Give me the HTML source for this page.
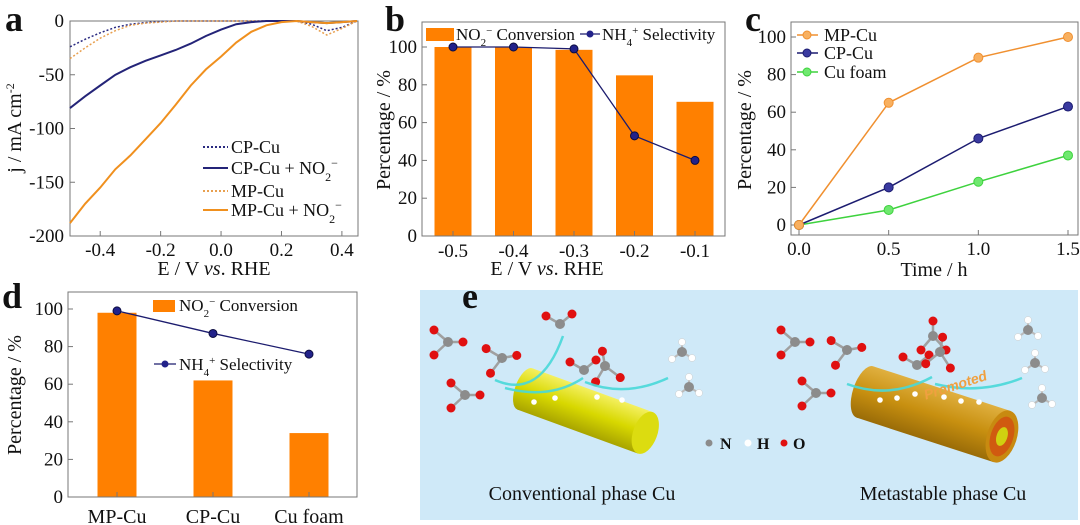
<!DOCTYPE html>
<html><head><meta charset="utf-8">
<style>
html,body{margin:0;padding:0;background:#fff;}
svg{display:block;font-family:"Liberation Serif",serif;}
</style></head>
<body>
<svg id="fig" width="1080" height="525" viewBox="0 0 1080 525" xmlns="http://www.w3.org/2000/svg"></svg>
<script>
// ---------- Panel a data ----------
const aX = [-0.5,-0.45,-0.4,-0.35,-0.3,-0.25,-0.2,-0.15,-0.1,-0.05,0,0.05,0.1,0.15,0.2,0.25,0.3,0.35,0.4,0.45];
const aCPno2 = [-81,-70,-60,-50,-43,-37,-32,-27,-21,-14,-8,-3,-1,0,0,0,-1,-2,-1,0];
const aMPno2 = [-188,-170,-155,-138,-125,-110,-95,-78,-60,-45,-33,-20,-10,-4,-1,0,-1,-2,-1,0];
const aCP = [-24,-17,-11,-6,-3,-1.5,-0.5,0,0,0,0,0,0,0,0,0,-3,-9,-6,0];
const aMP = [-35,-25,-16,-9,-4,-2,-1,0,0,0,0,0,0,0,0,0,-5,-13,-7,0];
const aXTicks = [-0.4,-0.2,0.0,0.2,0.4];
const aYTicks = [0,-50,-100,-150,-200];
// ---------- Panel b data ----------
const bCats = ["-0.5","-0.4","-0.3","-0.2","-0.1"];
const bConv = [100,100,98.5,85,71];
const bSel = [100,100,99,53,40];
const bYTicks = [0,20,40,60,80,100];
// ---------- Panel c data ----------
const cTime = [0,0.5,1.0,1.5];
const cMP = [0,65,89,100];
const cCP = [0,20,46,63];
const cFoam = [0,8,23,37];
const cXTicks = ["0.0","0.5","1.0","1.5"];
const cYTicks = [0,20,40,60,80,100];
// ---------- Panel d data ----------
const dCats = ["MP-Cu","CP-Cu","Cu foam"];
const dConv = [98,62,34];
const dSel = [99,87,76];
const dYTicks = [0,20,40,60,80,100];

const NS="http://www.w3.org/2000/svg";
const svg=document.getElementById('fig');
function mk(tag,attrs,parent){const e=document.createElementNS(NS,tag);for(const k in attrs)e.setAttribute(k,attrs[k]);(parent||svg).appendChild(e);return e;}
function txt(s,x,y,size,anchor,parent,extra){const t=mk('text',Object.assign({x:x,y:y,'font-size':size,'text-anchor':anchor||'middle',fill:'#111'},extra||{}),parent);t.innerHTML=s;return t;}
function lin(a,b){return v=>a[1]+(v-a[0])*(b[1]-a[1])/(b[0]-a[0]);}
function frame(x0,y0,x1,y1,g){mk('rect',{x:x0,y:y0,width:x1-x0,height:y1-y0,fill:'none',stroke:'#777','stroke-width':1},g);}
function path(xs,ys,sx,sy){return xs.map((v,i)=>(i?'L':'M')+sx(v).toFixed(1)+','+sy(ys[i]).toFixed(1)).join(' ');}
const TK=19, TT=20, LG=17;

// ===== Panel a =====
const ga=mk('g',{});


const axs=lin([-0.5,70],[0.45,357]), ays=lin([0,21],[-200,236]);
frame(70,21,358,236,ga);
aXTicks.forEach(v=>{const x=axs(v);mk('line',{x1:x,x2:x,y1:236,y2:231,stroke:'#777'},ga);
 const t=txt(v.toFixed(1),x,256,TK,'middle',ga);});
aYTicks.forEach(v=>{const y=ays(v);mk('line',{x1:70,x2:75,y1:y,y2:y,stroke:'#777'},ga);
 const t=txt(String(v),64,y+6,TK,'end',ga);});
[[aCP,'#2a2a80','1.5','2,2','a-line-cp-cu'],[aMP,'#e8a050','1.5','2,2','a-line-mp-cu'],[aCPno2,'#242478','2','','a-line-cp-cu-no2'],[aMPno2,'#f0901e','2','','a-line-mp-cu-no2']].forEach(s=>{
 const p=mk('path',{d:path(aX,s[0],axs,ays),fill:'none',stroke:s[1],'stroke-width':s[2],'stroke-dasharray':s[3]},ga);
 });
const aLeg=[['CP-Cu','#2a2a80','2,2',147],['CP-Cu + NO<tspan baseline-shift="sub" font-size="12">2</tspan><tspan baseline-shift="super" font-size="12">−</tspan>','#242478','',168],['MP-Cu','#e8a050','2,2',191],['MP-Cu + NO<tspan baseline-shift="sub" font-size="12">2</tspan><tspan baseline-shift="super" font-size="12">−</tspan>','#f0901e','',210]];
aLeg.forEach(l=>{const g=mk('g',{},ga);
 mk('line',{x1:203,x2:228,y1:l[3],y2:l[3],stroke:l[1],'stroke-width':2,'stroke-dasharray':l[2]},g);
 txt(l[0],231,l[3]+6,LG+1,'start',g);});
let t=txt('j / mA cm<tspan baseline-shift="super" font-size="12">-2</tspan>',0,0,TT,'middle',ga,{transform:'translate(21,128) rotate(-90)'});

t=txt('E / V <tspan font-style="italic">vs</tspan>. RHE',214,275,TT,'middle',ga);


// ===== Panel b =====
const gb=mk('g',{});


const bys=lin([0,236],[100,47]); const bxs=i=>453+60.5*i;
bCats.forEach((c,i)=>{const r=mk('rect',{x:bxs(i)-18.5,y:bys(bConv[i]),width:37,height:236-bys(bConv[i]),fill:'#ff8000'},gb);
 
 mk('line',{x1:bxs(i),x2:bxs(i),y1:236,y2:231,stroke:'#777'},gb);
 const t=txt(c,bxs(i),257,TK,'middle',gb);});
frame(422,22,725,236,gb);
bYTicks.forEach(v=>{const y=bys(v);mk('line',{x1:422,x2:427,y1:y,y2:y,stroke:'#777'},gb);
 const t=txt(String(v),417,y+6,TK,'end',gb);});
let p=mk('path',{d:bSel.map((v,i)=>(i?'L':'M')+bxs(i)+','+bys(v)).join(' '),fill:'none',stroke:'#1c1c6e','stroke-width':1.3},gb);

bSel.forEach((v,i)=>{const c=mk('circle',{cx:bxs(i),cy:bys(v),r:4,fill:'#22228a',stroke:'#0c0c40','stroke-width':1},gb);
 });
let lg=mk('g',{},gb);
mk('rect',{x:426,y:28,width:28,height:13,fill:'#ff8000'},lg);
txt('NO<tspan baseline-shift="sub" font-size="11">2</tspan><tspan baseline-shift="super" font-size="11">−</tspan> Conversion',456,40,LG,'start',lg);
mk('line',{x1:580,x2:600,y1:34,y2:34,stroke:'#1c1c6e','stroke-width':1.3},lg);
mk('circle',{cx:590,cy:34,r:3.5,fill:'#22228a'},lg);
txt('NH<tspan baseline-shift="sub" font-size="11">4</tspan><tspan baseline-shift="super" font-size="11">+</tspan> Selectivity',602,40,LG,'start',lg);
t=txt('Percentage / %',0,0,TT,'middle',gb,{transform:'translate(390,130) rotate(-90)'});

t=txt('E / V <tspan font-style="italic">vs</tspan>. RHE',547,275,TT,'middle',gb);


// ===== Panel c =====
const gc=mk('g',{});


const cxs=lin([0,799],[1.5,1068]), cys=lin([0,225],[100,37]);
frame(791,22,1078,235,gc);
cXTicks.forEach(v=>{const x=cxs(parseFloat(v));mk('line',{x1:x,x2:x,y1:235,y2:230,stroke:'#777'},gc);
 const t=txt(v,x,255,TK,'middle',gc);});
cYTicks.forEach(v=>{const y=cys(v);mk('line',{x1:791,x2:796,y1:y,y2:y,stroke:'#777'},gc);
 const t=txt(String(v),786,y+6,TK,'end',gc);});
[[cFoam,'#3ed23e','#6fe86f','c-series-cu-foam'],[cCP,'#1c1c70','#3a3aa0','c-series-cp-cu'],[cMP,'#f09030','#f8b060','c-series-mp-cu']].forEach(s=>{
 const g=mk('g',{},gc);
 mk('path',{d:path(cTime,s[0],cxs,cys),fill:'none',stroke:s[1],'stroke-width':1.5},g);
 s[0].forEach((v,i)=>{const c=mk('circle',{cx:cxs(cTime[i]),cy:cys(v),r:4.5,fill:s[2],stroke:s[1],'stroke-width':1},g);
  });
});
[['MP-Cu','#f09030','#f8b060',35],['CP-Cu','#1c1c70','#3a3aa0',53],['Cu foam','#3ed23e','#6fe86f',72]].forEach(l=>{
 const g=mk('g',{},gc);
 mk('line',{x1:797,x2:818,y1:l[3],y2:l[3],stroke:l[1],'stroke-width':1.5},g);
 mk('circle',{cx:807,cy:l[3],r:4,fill:l[2],stroke:l[1]},g);
 txt(l[0],824,l[3]+6,LG+1,'start',g);});
t=txt('Percentage / %',0,0,TT,'middle',gc,{transform:'translate(751,130) rotate(-90)'});

t=txt('Time / h',934,276,TT,'middle',gc);


// ===== Panel d =====
const gd=mk('g',{});


const dys=lin([0,497],[100,309]); const dxs=i=>117+96*i;
dCats.forEach((c,i)=>{const r=mk('rect',{x:dxs(i)-19.5,y:dys(dConv[i]),width:39,height:497-dys(dConv[i]),fill:'#ff8000'},gd);
 
 mk('line',{x1:dxs(i),x2:dxs(i),y1:497,y2:492,stroke:'#777'},gd);
 const t=txt(c,dxs(i),523,TT,'middle',gd);});
frame(68,292,357,497,gd);
dYTicks.forEach(v=>{const y=dys(v);mk('line',{x1:68,x2:73,y1:y,y2:y,stroke:'#777'},gd);
 const t=txt(String(v),63,y+6,TK,'end',gd);});
p=mk('path',{d:dSel.map((v,i)=>(i?'L':'M')+dxs(i)+','+dys(v)).join(' '),fill:'none',stroke:'#1c1c6e','stroke-width':1.3},gd);

dSel.forEach((v,i)=>{const c=mk('circle',{cx:dxs(i),cy:dys(v),r:4,fill:'#22228a',stroke:'#0c0c40'},gd);
 });
lg=mk('g',{},gd);
mk('rect',{x:153,y:300,width:22,height:12,fill:'#ff8000'},lg);
txt('NO<tspan baseline-shift="sub" font-size="11">2</tspan><tspan baseline-shift="super" font-size="11">−</tspan> Conversion',179,311,LG,'start',lg);
mk('line',{x1:154,x2:176,y1:364,y2:364,stroke:'#1c1c6e','stroke-width':1.3},lg);
mk('circle',{cx:165,cy:364,r:3.5,fill:'#22228a'},lg);
txt('NH<tspan baseline-shift="sub" font-size="11">4</tspan><tspan baseline-shift="super" font-size="11">+</tspan> Selectivity',179,370,LG,'start',lg);
t=txt('Percentage / %',0,0,TT,'middle',gd,{transform:'translate(21,395) rotate(-90)'});


// ===== Panel e (schematic) =====
const ge=mk('g',{});


mk('rect',{x:420,y:290,width:658,height:230,fill:'#cfe9f8'},ge);
const defs=mk('defs',{},ge);
defs.innerHTML='<linearGradient id="gy" x1="0" y1="0" x2="0" y2="1"><stop offset="0" stop-color="#f4f060"/><stop offset="0.5" stop-color="#d8d800"/><stop offset="1" stop-color="#a8a400"/></linearGradient>'+
'<linearGradient id="go" x1="0" y1="0" x2="0" y2="1"><stop offset="0" stop-color="#e0b040"/><stop offset="0.5" stop-color="#c89010"/><stop offset="1" stop-color="#9a6c08"/></linearGradient>';
function cyl(cx,cy,len,r,ang,fill,meta,name){
 const g=mk('g',{transform:`translate(${cx},${cy}) rotate(${ang})`},ge);
 
 mk('ellipse',{cx:0,cy:0,rx:r*0.45,ry:r,fill:fill},g);
 mk('rect',{x:0,y:-r,width:len,height:2*r,fill:fill},g);
 if(meta){mk('ellipse',{cx:len,cy:0,rx:r*0.55,ry:r,fill:'#c88a10'},g);
  mk('ellipse',{cx:len,cy:0,rx:r*0.42,ry:r*0.76,fill:'#d05a10'},g);
  mk('ellipse',{cx:len,cy:0,rx:r*0.2,ry:r*0.36,fill:'#d0d010'},g);}
 else mk('ellipse',{cx:len,cy:0,rx:r*0.55,ry:r,fill:'#dcdc10'},g);
}
cyl(525,389,128,22,20,'url(#gy)',false,'conventional-cu-cylinder');
cyl(865,392,144,27,18,'url(#go)',true,'metastable-cu-cylinder');
function dots(arr){arr.forEach(d=>mk('circle',{cx:d[0],cy:d[1],r:2.8,fill:'#fff'},ge));}
dots([[534,402],[555,398],[597,397],[622,400]]);
dots([[880,400],[897,398],[915,394],[944,397],[961,401],[979,402]]);
function no2(x,y,three,rot){
 const g=mk('g',{transform:`translate(${x},${y}) rotate(${rot})`},ge);
 
 const os=three?[[-14,-12],[15,0],[-14,13]]:[[-14,-8],[12,-10]];
 os.forEach(o=>mk('line',{x1:0,y1:0,x2:o[0],y2:o[1],stroke:'#a0a0a0','stroke-width':2.5},g));
 os.forEach(o=>mk('circle',{cx:o[0],cy:o[1],r:4.5,fill:'#e01010'},g));
 mk('circle',{cx:0,cy:0,r:5,fill:'#8c8c8c'},g);
}
[[448,342,1,0],[465,395,1,0],[502,358,1,-10],[560,324,0,0],[584,370,0,0],[605,366,1,-100],
 [795,342,1,0],[847,350,1,-10],[816,393,1,0],[933,336,1,-90],[917,365,0,0],[940,352,1,-80]].forEach(m=>no2(m[0],m[1],m[2],m[3]));
function nh3(x,y){const g=mk('g',{transform:`translate(${x},${y})`},ge);
 
 [[0,-10],[-10,7],[10,6]].forEach(h=>{mk('line',{x1:0,y1:0,x2:h[0],y2:h[1],stroke:'#bbb','stroke-width':2},g);mk('circle',{cx:h[0],cy:h[1],r:3.5,fill:'#fff',stroke:'#ccc','stroke-width':0.5},g);});
 mk('circle',{cx:0,cy:0,r:5,fill:'#8c8c8c'},g);}
[[682,352],[689,387],[1028,330],[1035,363],[1042,398]].forEach(n=>nh3(n[0],n[1]));
function arrow(d,name){const p=mk('path',{d:d,fill:'none',stroke:'#48d8d8','stroke-width':2.5,opacity:0.9},ge);
 }
arrow('M495,380 Q540,400 563,336','reaction-arrow');
arrow('M505,388 Q550,400 583,378','reaction-arrow');
arrow('M585,382 Q625,398 668,378','reaction-arrow');
arrow('M847,384 Q890,400 932,377','reaction-arrow');
arrow('M935,384 Q980,395 1022,378','reaction-arrow');
t=txt('Promoted',955,390,14,'middle',ge,{transform:'rotate(-18 955 384)',fill:'#f0a040','font-weight':'bold','font-style':'italic','font-family':'Liberation Sans, sans-serif'});

lg=mk('g',{},ge);
mk('circle',{cx:709,cy:443,r:3.5,fill:'#8c8c8c'},lg);txt('N',720,449,16,'start',lg,{'font-weight':'bold'});
mk('circle',{cx:748,cy:443,r:3.5,fill:'#fff'},lg);txt('H',757,449,16,'start',lg,{'font-weight':'bold'});
mk('circle',{cx:784,cy:443,r:3.5,fill:'#e01010'},lg);txt('O',793,449,16,'start',lg,{'font-weight':'bold'});
t=txt('Conventional phase Cu',582,500,20,'middle',ge);
t=txt('Metastable phase Cu',943,500,20,'middle',ge);

[['a',5,31],['b',385,31],['c',745,31],['d',2,308],['e',462,308]].forEach(l=>{
 const t=txt(l[0],l[1],l[2],36,'start',svg,{'font-weight':'bold'});
 });
</script>
</body></html>
